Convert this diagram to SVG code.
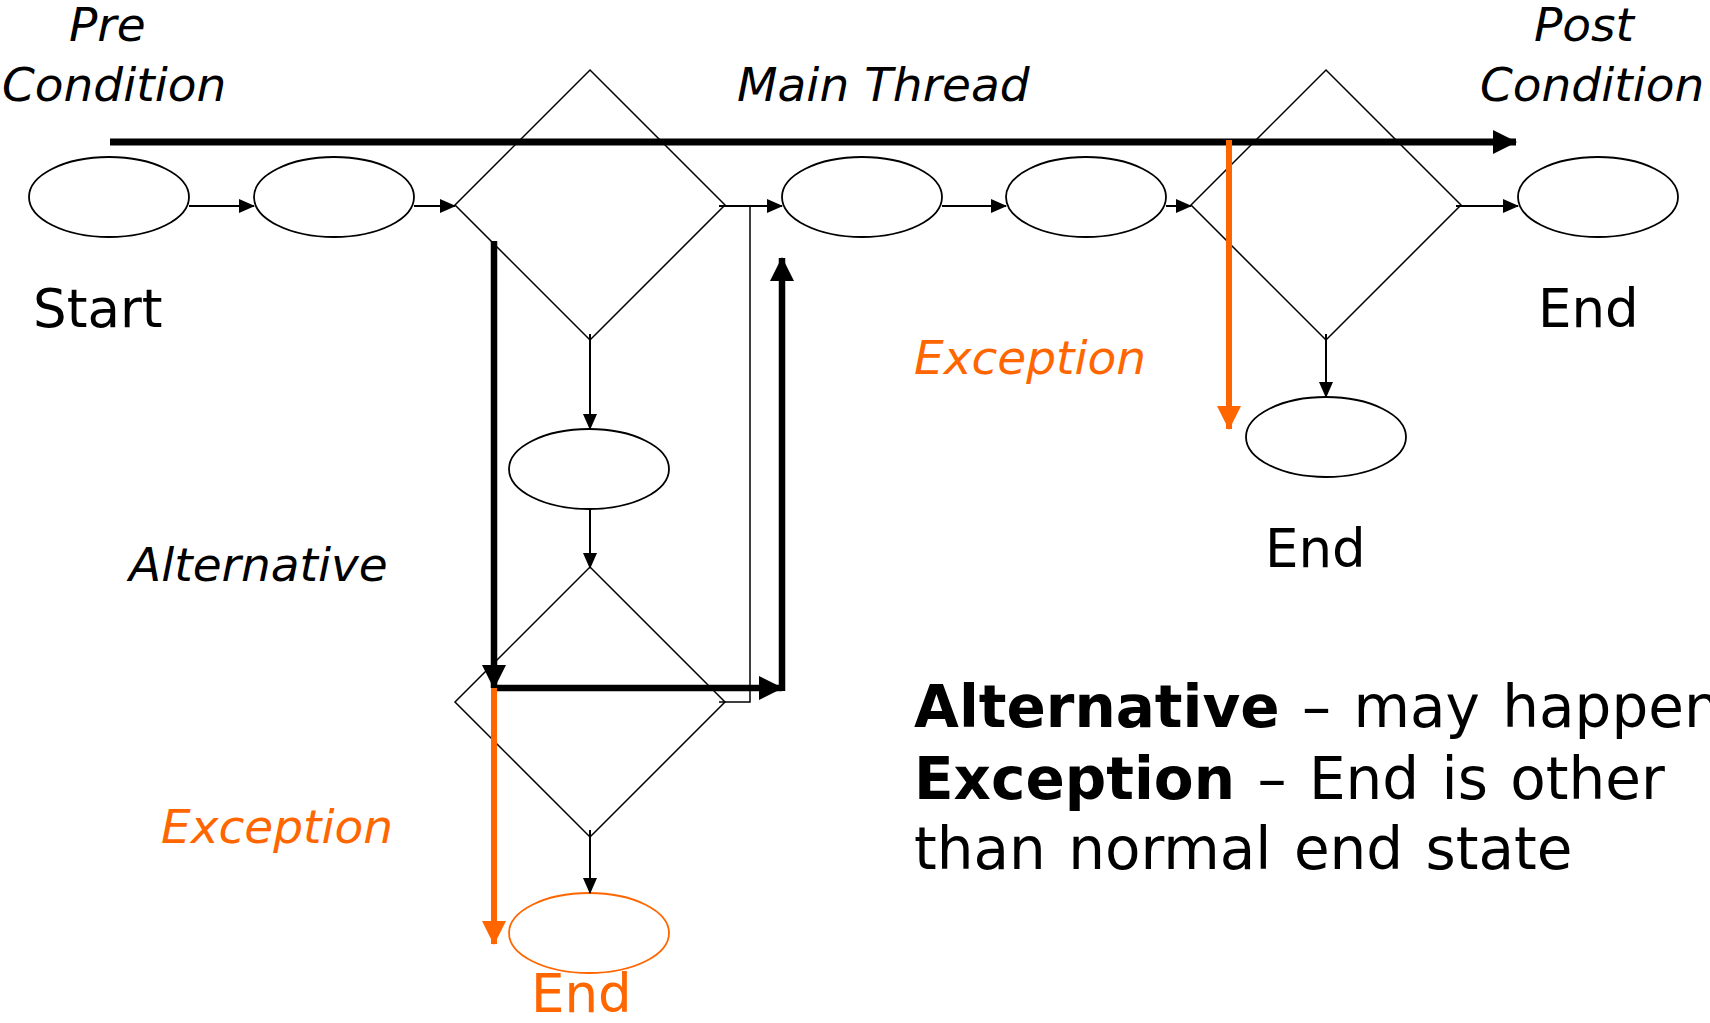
<svg xmlns="http://www.w3.org/2000/svg" width="1710" height="1023" viewBox="0 0 1710 1023">
<style>
.st{fill:#fff;stroke:#000;stroke-width:1.8}
.dm{fill:none;stroke:#000;stroke-width:1.5}
.c{fill:none;stroke:#000;stroke-width:2}
.thk{fill:none;stroke:#000;stroke-width:6.5}
.or{fill:none;stroke:#FF6600;stroke-width:6}
.t{font-family:"DejaVu Sans",Verdana,sans-serif}
.it{font-style:italic;font-size:47px}
.lb{font-size:53px}
.leg{font-size:58px;word-spacing:4px}
</style>
<defs>
<marker id="a" markerUnits="userSpaceOnUse" markerWidth="16" markerHeight="14" refX="15" refY="7" orient="auto"><path d="M0,0 L16,7 L0,14 Z" fill="#000"/></marker>
<marker id="ab" markerUnits="userSpaceOnUse" markerWidth="24" markerHeight="24" refX="23" refY="12" orient="auto"><path d="M0,0 L24,12 L0,24 Z" fill="#000"/></marker>
<marker id="ao" markerUnits="userSpaceOnUse" markerWidth="24" markerHeight="24" refX="23" refY="12" orient="auto"><path d="M0,0 L24,12 L0,24 Z" fill="#FF6600"/></marker>
</defs>
<g id="n-d1"><path class="dm" d="M590,70 L725,205 L590,340 L455,205 Z"/></g>
<g id="n-d2"><path class="dm" d="M590,567 L725,702 L590,837 L455,702 Z"/></g>
<g id="n-d3"><path class="dm" d="M1326,70 L1461,205 L1326,340 L1191,205 Z"/></g>
<g id="n-e1"><ellipse class="st" cx="109" cy="197" rx="80" ry="40"/></g>
<g id="n-e2"><ellipse class="st" cx="334" cy="197" rx="80" ry="40"/></g>
<g id="n-e3"><ellipse class="st" cx="862" cy="197" rx="80" ry="40"/></g>
<g id="n-e4"><ellipse class="st" cx="1086" cy="197" rx="80" ry="40"/></g>
<g id="n-e5"><ellipse class="st" cx="1598" cy="197" rx="80" ry="40"/></g>
<g id="n-e6"><ellipse class="st" cx="1326" cy="437" rx="80" ry="40"/></g>
<g id="n-e7"><ellipse class="st" cx="589" cy="469" rx="80" ry="40"/></g>
<g id="n-e8"><ellipse cx="589" cy="933" rx="80" ry="40" fill="#fff" stroke="#FF6600" stroke-width="1.8"/></g>
<g id="connectors">
<line class="c" x1="189" y1="206" x2="254" y2="206" marker-end="url(#a)"/>
<line class="c" x1="414" y1="206" x2="455" y2="206" marker-end="url(#a)"/>
<line class="c" x1="719" y1="206" x2="782" y2="206" marker-end="url(#a)"/>
<path d="M719,702 H750 V206" fill="none" stroke="#000" stroke-width="1.5"/>
<line class="c" x1="942" y1="206" x2="1006" y2="206" marker-end="url(#a)"/>
<line class="c" x1="1166" y1="206" x2="1191" y2="206" marker-end="url(#a)"/>
<line class="c" x1="1456" y1="206" x2="1518" y2="206" marker-end="url(#a)"/>
<line class="c" x1="1326" y1="334" x2="1326" y2="397" marker-end="url(#a)"/>
<line class="c" x1="590" y1="334" x2="590" y2="429" marker-end="url(#a)"/>
<line class="c" x1="590" y1="509" x2="590" y2="568" marker-end="url(#a)"/>
<line class="c" x1="590" y1="830" x2="590" y2="893" marker-end="url(#a)"/>
<line x1="110" y1="142" x2="1516" y2="142" stroke="#000" stroke-width="7" marker-end="url(#ab)"/>
<line class="thk" x1="494" y1="241" x2="494" y2="688" marker-end="url(#ab)"/>
<line class="thk" x1="491" y1="688" x2="782" y2="688" marker-end="url(#ab)"/>
<line class="thk" x1="782" y1="691" x2="782" y2="258" marker-end="url(#ab)"/>
<line class="or" x1="1229" y1="140" x2="1229" y2="429" marker-end="url(#ao)"/>
<line class="or" x1="494" y1="688" x2="494" y2="944" marker-end="url(#ao)"/>
</g>
<g id="labels">
<text class="t it" x="69" y="41">Pre</text>
<text class="t it" x="2" y="101">Condition</text>
<text class="t it" x="1534" y="41">Post</text>
<text class="t it" x="1480" y="101">Condition</text>
<text class="t it" x="737" y="101">Main Thread</text>
<text class="t lb" x="33" y="327">Start</text>
<text class="t lb" x="1538" y="327">End</text>
<text class="t lb" x="1265" y="567">End</text>
<text class="t lb" x="531" y="1012" fill="#FF6600">End</text>
<text class="t it" x="914" y="374" fill="#FF6600">Exception</text>
<text class="t it" x="129" y="581">Alternative</text>
<text class="t it" x="161" y="843" fill="#FF6600">Exception</text>
<text class="t leg" x="914" y="727"><tspan font-weight="bold">Alternative</tspan> – may happen</text>
<text class="t leg" x="914" y="799"><tspan font-weight="bold">Exception</tspan> – End is other</text>
<text class="t leg" x="914" y="869">than normal end state</text>
</g>
</svg>
